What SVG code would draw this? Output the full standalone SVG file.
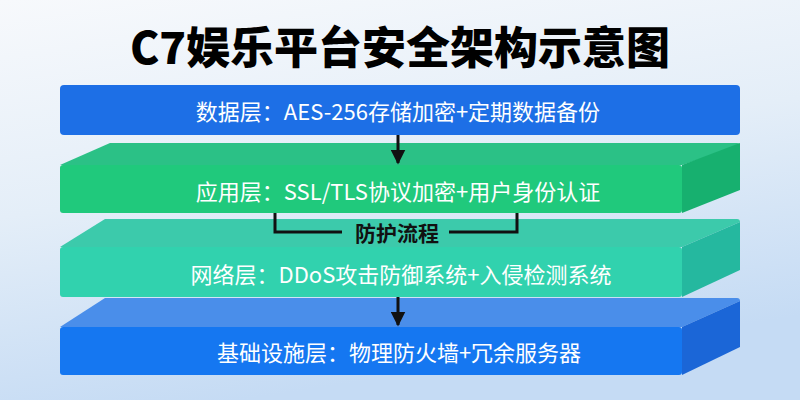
<svg xmlns="http://www.w3.org/2000/svg" width="800" height="400" viewBox="0 0 800 400">
<defs>
<linearGradient id="bg" x1="0" y1="0" x2="0.3" y2="1">
<stop offset="0" stop-color="#f7f9fc"/>
<stop offset="0.5" stop-color="#e4eef8"/>
<stop offset="1" stop-color="#c5dbf4"/>
</linearGradient>
<marker id="ah" viewBox="0 0 10 10" refX="9" refY="5" markerWidth="5" markerHeight="5" orient="auto" markerUnits="strokeWidth">
<path d="M0,0 L10,5 L0,10 z" fill="#111"/>
</marker>
<style>
.lbl{font-family:"Noto Sans CJK SC","Noto Sans",sans-serif;font-size:22px;fill:#fff;text-anchor:middle;dominant-baseline:central}
.ttl{font-family:"Noto Sans CJK SC","Noto Sans",sans-serif;font-size:44px;font-weight:900;fill:#000;text-anchor:middle}
.con{fill:none;stroke:#111;stroke-width:3}
.flow{font-family:"Noto Sans CJK SC","Noto Sans",sans-serif;font-size:21px;font-weight:700;fill:#111;text-anchor:middle;dominant-baseline:central}
</style>
</defs>
<rect width="800" height="400" fill="url(#bg)"/>
<text class="ttl" x="400" y="64">C7娱乐平台安全架构示意图</text>

<g id="data-layer">
<rect x="60" y="85" width="680" height="50" rx="4" fill="#1d6fe6"/>
<text class="lbl" x="398" y="110">数据层：AES-256存储加密+定期数据备份</text>
</g>

<g id="app-layer">
<path d="M60,165 L110,143 L737,143 Q740,143 740,146 L682,165 Z" fill="#2bc186"/>
<path d="M682,165 L740,143 L740,190 L682,213 Z" fill="#17b06f"/>
<rect x="60" y="165" width="622" height="48" rx="3" fill="#20c97c"/>
<text class="lbl" x="398" y="190">应用层：SSL/TLS协议加密+用户身份认证</text>
</g>

<g id="network-layer">
<path d="M60,247 L105,219 L737,219 Q740,219 740,222 L682,247 Z" fill="#3ccaab"/>
<path d="M682,247 L740,222 L740,270 L682,297 Z" fill="#25b89f"/>
<rect x="60" y="247" width="622" height="50" rx="3" fill="#31d2ae"/>
<text class="lbl" x="401" y="273">网络层：DDoS攻击防御系统+入侵检测系统</text>
</g>

<g id="infra-layer">
<path d="M60,327 L105,298 L737,298 Q740,298 740,301 L682,327 Z" fill="#4a8eea"/>
<path d="M682,327 L740,301 L740,347 L682,375 Z" fill="#1b66d7"/>
<rect x="60" y="327" width="622" height="48" rx="3" fill="#1577f1"/>
<text class="lbl" x="399" y="351">基础设施层：物理防火墙+冗余服务器</text>
</g>

<g id="connectors">
<line class="con" x1="398" y1="135" x2="398" y2="163" marker-end="url(#ah)"/>
<line class="con" x1="398" y1="297" x2="398" y2="325" marker-end="url(#ah)"/>
<polyline class="con" points="275,213 275,232 342,232"/>
<polyline class="con" points="449,232 517,232 517,213"/>
<text class="flow" x="397" y="232">防护流程</text>
</g>
</svg>
